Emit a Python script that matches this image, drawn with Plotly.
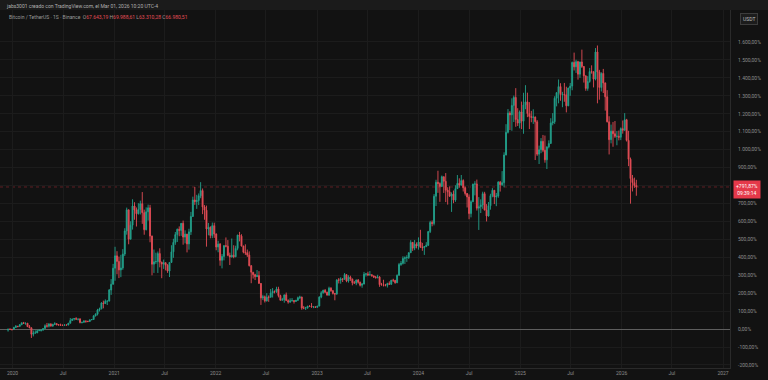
import pandas as pd
import plotly.graph_objects as go

# ---------------- data (weekly BTC/USDT, Binance, in thousands of USDT) ----------------
first_week = "2019-12-16"
first_open = 7.07
base_close = 7.51008  # close of first visible bar (percentage-scale reference)

closes = [
    # 2019 (Dec 16, 23, 30)
    7.51, 7.39, 7.35,
    # 2020
    8.18, 8.70, 8.60, 9.34, 10.15, 9.90, 9.96, 8.52, 8.03, 5.36, 5.82, 5.88, 6.78,
    6.91, 7.12, 7.70, 8.89, 8.72, 9.68, 8.72, 9.45, 9.75, 9.33, 9.29, 9.12, 9.07,
    9.25, 9.18, 9.94, 11.07, 11.68, 11.91, 11.65, 11.71, 10.26, 10.33, 10.92, 10.77,
    10.67, 11.38, 11.50, 13.03, 13.76, 15.48, 15.97, 18.41, 18.18, 19.15, 19.27,
    23.85, 26.26, 33.00,
    # 2021
    38.15, 35.83, 32.26, 33.09, 38.89, 48.58, 57.41, 45.14, 50.97, 59.02, 57.35,
    55.78, 57.60, 60.00, 56.23, 49.10, 56.61, 58.24, 46.43, 34.66, 35.66, 35.80,
    39.10, 35.48, 34.70, 35.29, 34.26, 31.78, 35.40, 39.85, 43.80, 47.05, 49.30,
    48.81, 51.77, 46.00, 47.26, 43.16, 48.20, 54.66, 61.53, 60.85, 61.30, 63.27,
    65.47, 58.62, 57.27, 49.40, 50.08, 46.68, 50.78, 47.30,
    # 2022
    41.87, 43.08, 36.28, 37.92, 42.41, 42.20, 38.36, 37.70, 38.42, 37.79, 41.28,
    46.83, 46.41, 42.25, 39.68, 39.45, 38.47, 34.06, 31.31, 30.29, 29.45, 29.90,
    26.60, 20.55, 21.03, 19.30, 20.85, 20.80, 22.58, 23.30, 23.17, 24.30, 21.52,
    19.55, 19.83, 21.83, 19.42, 18.80, 19.31, 19.42, 19.07, 19.57, 20.63, 20.92,
    16.33, 16.28, 16.43, 17.11, 17.09, 16.76, 16.84, 16.61,
    # 2023
    17.13, 20.88, 22.71, 23.74, 22.93, 21.78, 24.63, 23.55, 22.43, 22.16, 28.04,
    27.99, 28.45, 28.33, 30.30, 27.59, 29.23, 28.43, 26.91, 26.75, 28.07, 27.12,
    25.85, 26.34, 30.47, 30.59, 30.17, 30.23, 29.79, 29.28, 29.05, 29.28, 26.10,
    26.00, 25.87, 25.84, 26.53, 26.25, 27.97, 27.92, 26.86, 29.99, 34.53, 35.01,
    37.06, 37.36, 37.45, 39.47, 43.79, 41.37, 43.01, 42.28,
    # 2024
    43.93, 41.73, 41.58, 42.03, 42.58, 48.30, 52.14, 51.73, 63.11, 68.96, 68.39,
    67.21, 71.28, 69.36, 65.66, 64.94, 63.12, 64.01, 61.48, 66.27, 68.51, 67.75,
    69.65, 66.68, 64.25, 62.77, 55.85, 60.80, 68.16, 68.25, 58.12, 58.71, 59.49,
    64.16, 57.30, 54.84, 59.13, 63.35, 65.60, 62.82, 63.20, 69.03, 67.93, 68.78,
    80.37, 89.85, 97.90, 97.19, 101.11, 104.46, 95.19, 93.72, 98.36,
    # 2025
    94.51, 101.33, 102.62, 97.70, 96.46, 96.12, 96.25, 94.27, 80.73, 82.58, 86.08,
    82.34, 78.35, 83.76, 85.17, 93.75, 94.31, 104.12, 106.45, 109.01, 105.64,
    105.73, 105.55, 100.96, 108.38, 109.20, 119.09, 117.27, 119.45, 114.21, 119.30,
    117.40, 113.49, 108.25, 111.14, 115.27, 115.23, 112.12, 123.50, 115.10, 108.64,
    114.50, 110.54, 104.72, 94.26, 86.80, 90.36, 89.27, 88.17, 88.21, 87.80, 91.40,
    # 2026
    90.70, 95.10, 86.50, 78.60, 70.50, 68.80, 67.64, 66.98051,
]

highs = [
    7.52, 7.70, 7.55,
    8.46, 9.19, 8.79, 9.62, 10.17, 10.50, 10.25, 10.03, 9.19, 8.18, 6.90, 6.98, 7.20,
    7.47, 7.30, 7.74, 9.48, 10.07, 9.93, 9.90, 9.74, 10.38, 10.00, 9.59, 9.78, 9.35,
    9.47, 9.35, 10.10, 12.12, 11.90, 12.09, 12.48, 11.78, 12.08, 10.59, 11.18, 10.99,
    10.95, 11.43, 11.72, 13.35, 14.09, 15.97, 16.48, 18.78, 19.42, 19.92, 19.42,
    24.30, 28.42, 34.80,
    41.95, 40.10, 37.85, 38.59, 40.96, 49.71, 58.35, 57.53, 52.64, 61.84, 60.60,
    58.40, 60.20, 61.25, 64.85, 57.50, 58.45, 59.59, 59.50, 46.64, 40.80, 39.48,
    39.96, 41.33, 35.75, 36.60, 35.10, 34.68, 35.40, 42.60, 45.31, 48.14, 49.55,
    50.50, 51.90, 52.92, 48.84, 47.35, 49.50, 56.56, 62.93, 67.00, 63.70, 64.28,
    69.00, 66.34, 59.40, 59.18, 51.94, 50.55, 52.09, 52.03,
    47.57, 44.45, 43.50, 38.92, 42.66, 45.86, 44.75, 39.50, 45.40, 42.59, 42.40,
    46.99, 48.19, 47.20, 42.42, 42.98, 40.80, 40.02, 34.25, 31.33, 30.66, 32.22,
    31.75, 26.80, 21.87, 21.54, 22.53, 21.60, 24.28, 24.67, 23.65, 25.21, 25.21,
    21.90, 20.58, 21.86, 22.80, 19.96, 20.39, 20.48, 19.66, 19.70, 21.09, 21.48,
    21.05, 17.19, 16.81, 17.20, 17.43, 18.39, 16.96, 16.95,
    17.18, 21.26, 23.37, 23.96, 24.25, 23.16, 25.25, 25.02, 23.88, 22.60, 28.39,
    28.87, 29.19, 28.80, 30.99, 30.48, 30.04, 29.85, 28.65, 27.65, 28.18, 28.45,
    27.35, 26.80, 31.43, 31.00, 31.50, 31.80, 30.45, 29.55, 29.74, 30.24, 29.68,
    26.84, 28.15, 26.43, 26.90, 27.48, 28.05, 28.58, 27.99, 30.39, 35.20, 35.98,
    37.97, 37.93, 38.42, 39.67, 44.70, 43.43, 44.75, 43.80,
    45.88, 49.05, 43.58, 42.20, 43.88, 48.59, 52.82, 52.98, 64.00, 70.00, 73.78,
    68.92, 71.77, 71.34, 72.80, 66.87, 67.23, 64.73, 65.50, 67.70, 71.98, 70.60,
    71.99, 70.19, 67.24, 63.37, 63.86, 61.42, 68.37, 69.40, 70.08, 62.75, 61.80,
    65.00, 64.96, 59.81, 60.67, 64.13, 66.50, 65.55, 64.48, 69.40, 69.52, 73.62,
    81.50, 93.27, 99.59, 98.69, 104.09, 105.25, 108.35, 99.96, 99.00,
    102.72, 106.42, 109.59, 106.46, 102.50, 98.83, 99.50, 96.50, 95.00, 84.30, 87.45,
    88.77, 88.50, 83.99, 86.50, 95.76, 97.90, 104.97, 106.66, 111.98, 110.42,
    106.80, 110.53, 108.95, 108.53, 110.53, 119.49, 123.22, 120.25, 119.80, 119.45,
    124.47, 117.63, 113.65, 113.38, 116.80, 117.90, 113.37, 125.13, 126.20, 116.00,
    114.98, 116.40, 110.70, 107.50, 96.60, 93.09, 94.15, 94.60, 90.37, 90.60, 91.90,
    94.80, 97.90, 95.50, 90.50, 79.30, 72.00, 70.90, 69.98861,
]

lows = [
    6.44, 7.13, 6.87,
    7.33, 8.06, 8.23, 8.58, 9.13, 9.65, 9.30, 8.41, 8.00, 3.78, 4.44, 5.69, 5.86,
    6.76, 6.46, 6.79, 7.66, 8.11, 8.20, 8.70, 8.63, 9.27, 9.10, 8.91, 8.83, 8.89,
    9.05, 9.00, 9.12, 9.90, 10.98, 11.12, 11.36, 11.12, 9.88, 9.85, 10.20, 10.14,
    10.37, 10.53, 11.22, 11.42, 12.78, 13.20, 14.87, 15.79, 16.19, 18.00, 17.57,
    19.00, 21.82, 26.50,
    27.73, 30.42, 28.85, 29.24, 32.30, 38.05, 47.01, 43.00, 45.00, 49.15, 53.27,
    50.43, 55.47, 55.47, 51.54, 47.00, 48.81, 52.90, 43.83, 30.00, 31.00, 34.80,
    31.00, 33.35, 28.80, 32.70, 32.08, 31.02, 29.28, 35.20, 37.33, 42.78, 43.96,
    46.37, 46.51, 42.83, 43.37, 39.60, 40.75, 46.89, 54.41, 59.50, 57.82, 59.40,
    62.28, 55.60, 53.26, 42.00, 46.75, 45.50, 45.56, 45.68,
    40.50, 39.65, 34.01, 32.92, 36.25, 41.70, 38.00, 34.32, 37.45, 37.16, 37.58,
    40.47, 44.20, 42.11, 39.20, 38.54, 37.70, 33.71, 26.70, 28.66, 28.02, 29.30,
    26.56, 17.62, 19.64, 18.63, 19.04, 18.91, 20.75, 20.71, 22.43, 22.66, 20.76,
    19.52, 19.54, 18.54, 19.32, 18.13, 18.47, 19.07, 18.19, 18.90, 19.23, 20.04,
    15.59, 15.82, 15.48, 16.00, 16.75, 16.53, 16.27, 16.33,
    16.50, 17.05, 20.40, 22.30, 22.50, 21.45, 21.35, 23.10, 21.97, 19.55, 21.85,
    26.60, 26.50, 27.20, 28.17, 27.13, 26.94, 27.66, 25.81, 26.53, 25.87, 26.51,
    25.35, 24.80, 26.25, 29.50, 29.70, 29.95, 29.50, 28.87, 28.59, 28.70, 25.17,
    25.80, 25.33, 25.38, 24.90, 26.15, 26.00, 27.22, 26.53, 26.90, 29.88, 33.94,
    34.52, 34.76, 35.63, 36.84, 39.45, 40.22, 40.52, 41.30,
    40.75, 41.50, 40.28, 38.55, 41.80, 42.26, 47.70, 50.52, 50.90, 59.00, 64.53,
    60.76, 66.93, 64.49, 60.66, 59.60, 62.79, 56.55, 60.19, 60.75, 66.60, 66.67,
    67.61, 65.08, 63.38, 58.40, 53.48, 54.26, 60.63, 63.46, 57.12, 49.00, 56.08,
    57.86, 57.20, 52.55, 54.58, 57.49, 62.68, 59.83, 58.95, 62.45, 65.06, 67.45,
    66.84, 80.21, 89.38, 90.79, 90.50, 94.15, 92.18, 92.51, 91.53,
    91.20, 89.26, 99.52, 96.20, 91.23, 94.09, 93.39, 78.26, 80.00, 76.60, 81.13,
    81.56, 77.15, 74.50, 83.11, 85.15, 92.80, 93.38, 100.72, 102.00, 103.07,
    100.37, 102.66, 98.20, 100.80, 105.13, 107.47, 115.74, 114.72, 111.92, 112.65,
    116.80, 110.68, 107.25, 107.27, 110.62, 114.40, 108.65, 111.60, 102.00, 103.53,
    106.96, 106.30, 98.94, 94.01, 80.60, 85.25, 83.82, 87.50, 84.45, 86.50, 86.60,
    89.30, 90.90, 86.00, 75.70, 60.00, 65.10, 66.60, 63.31028,
]

opens = [first_open] + closes[:-1]

year_ticks = ["2020-01-01", "2020-07-01", "2021-01-01", "2021-07-01", "2022-01-01",
              "2022-07-01", "2023-01-01", "2023-07-01", "2024-01-01", "2024-07-01",
              "2025-01-01", "2025-07-01", "2026-01-01", "2026-07-01", "2027-01-01"]
year_labels = ["2020", "Jul", "2021", "Jul", "2022", "Jul", "2023", "Jul", "2024", "Jul",
               "2025", "Jul", "2026", "Jul", "2027"]
pct_ticks = list(range(-200, 1700, 100))
hidden_pct_ticks = [800]  # covered by the last-price label in the reference
pct_labels = ["" if v in hidden_pct_ticks else
              f"{v:,.2f}%".replace(",", "X").replace(".", ",").replace("X", ".")
              for v in pct_ticks]

last_pct_text = "+791,87%"
countdown_text = "09:39:14"
header_1 = "jabs3001 creado con TradingView.com, el Mar 01, 2026 10:20 UTC-4"
symbol_text = "Bitcoin / TetherUS · 1S · Binance"
ohlc_letters = ["O", "H", "L", "C"]
ohlc_values = ["67.643,19", "69.988,61", "63.310,28", "66.980,51"]

# ---------------- build ----------------
def pct(v):
    return (v / base_close - 1.0) * 100.0

dates = pd.date_range(first_week, periods=len(closes), freq="7D")

UP = "#22a08b"
DN = "#e34d56"
BG = "#121212"
GRID = "#1c1c1c"
TXT = "#8c8c8c"
FONT = "Roboto"

fig = go.Figure()
fig.add_trace(go.Candlestick(
    x=dates,
    open=[pct(v) for v in opens],
    high=[pct(v) for v in highs],
    low=[pct(v) for v in lows],
    close=[pct(v) for v in closes],
    increasing=dict(line=dict(color=UP, width=0.9), fillcolor=UP),
    decreasing=dict(line=dict(color=DN, width=0.9), fillcolor=DN),
    whiskerwidth=0,
    showlegend=False,
    hoverinfo="skip",
))

last_pct = pct(closes[-1])

W, H = 768, 380
ML, MR, MT, MB = 0, 38, 0, 12
PW, PH = W - ML - MR, H - MT - MB

def px_x(px):
    return (px - ML) / PW

def px_y(py):
    return 1 - (py - MT) / PH

fig.update_layout(
    width=W, height=H,
    margin=dict(l=ML, r=MR, t=MT, b=MB, pad=0),
    paper_bgcolor=BG, plot_bgcolor=BG,
    font=dict(family=FONT, size=5, color=TXT),
    separators=",.",
    showlegend=False,
    xaxis=dict(
        type="date",
        range=["2019-11-17", "2027-01-26"],
        tickvals=year_ticks, ticktext=year_labels,
        showgrid=True, gridcolor=GRID, gridwidth=1,
        tickfont=dict(family=FONT, size=5, color=TXT),
        ticks="", ticklen=0,
        showline=True, linecolor="#2a2a2a", linewidth=1,
        rangeslider=dict(visible=False),
        zeroline=False,
    ),
    yaxis=dict(
        side="right",
        range=[-217, 1834],
        tickvals=pct_ticks, ticktext=pct_labels,
        showgrid=True, gridcolor=GRID, gridwidth=1,
        tickfont=dict(family=FONT, size=5, color=TXT),
        ticks="outside", ticklen=6, tickcolor=BG,
        showline=True, linecolor="#2a2a2a", linewidth=1,
        zeroline=True, zerolinecolor="#5e5e5e", zerolinewidth=1,
    ),
)

# top watermark band
fig.add_shape(type="rect", xref="paper", yref="paper",
              x0=px_x(0), x1=px_x(W), y0=px_y(10), y1=px_y(0),
              fillcolor="#1b1b1b", line=dict(width=0), layer="above")

# current price line
fig.add_shape(type="line", xref="paper", yref="y", x0=0, x1=1,
              y0=last_pct, y1=last_pct, layer="below",
              line=dict(color="rgba(242,54,69,0.35)", width=1, dash="dot"))

# header texts
fig.add_annotation(xref="paper", yref="paper", x=px_x(4), y=px_y(5.5),
                   xanchor="left", yanchor="middle", showarrow=False,
                   text=header_1, font=dict(family=FONT, size=5, color="#b0b0b0"))
ohlc_html = " ".join(f"{l}<span style='color:{DN}'>{v}</span>" for l, v in zip(ohlc_letters, ohlc_values))
fig.add_annotation(xref="paper", yref="paper", x=px_x(7), y=px_y(16.5),
                   xanchor="left", yanchor="middle", showarrow=False,
                   text=f"{symbol_text}  {ohlc_html}",
                   font=dict(family=FONT, size=5, color="#9a9a9a"))

# USDT box
fig.add_annotation(xref="paper", yref="paper", x=px_x(748.5), y=px_y(18.5),
                   xanchor="center", yanchor="middle", showarrow=False,
                   text="USDT", font=dict(family=FONT, size=5, color="#bdbdbd"),
                   bgcolor="#1c1c1c", bordercolor="#3c3c3c", borderwidth=1, borderpad=2)

# last price label
fig.add_annotation(xref="paper", yref="y", x=px_x(733), y=last_pct,
                   xanchor="left", yanchor="middle", yshift=-3, showarrow=False,
                   text=f"{last_pct_text}<br>{countdown_text}", align="center",
                   font=dict(family=FONT, size=5, color="#ffffff"),
                   bgcolor="#e5394a", borderpad=2)

fig.write_html("out.html")
